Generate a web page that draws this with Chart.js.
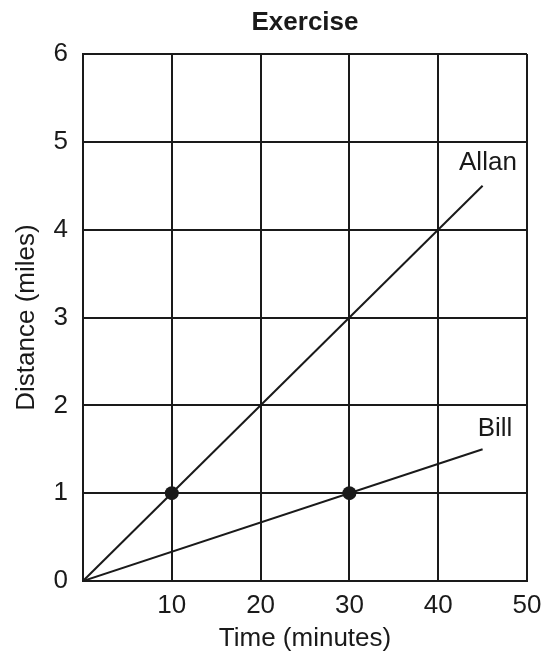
<!DOCTYPE html>
<html>
<head>
<meta charset="utf-8">
<script src="https://cdn.jsdelivr.net/npm/chart.js@4"></script>
<style>
  html, body { margin: 0; padding: 0; background: #ffffff; }
  #wrap { width: 543px; height: 662px; position: relative; }
</style>
</head>
<body>
<div id="wrap"><canvas id="c" width="543" height="662"></canvas></div>
<script>
// ---- data ----
const chartTitle = "Exercise";
const xTitle = "Time (minutes)";
const yTitle = "Distance (miles)";
const allanX = [0, 45];
const allanY = [0, 4.5];
const billX = [0, 45];
const billY = [0, 1.5];
const markerX = [10, 30];
const markerY = [1, 1];
const seriesNames = ["Allan", "Bill"];
const nameAnchorX = [45.6, 46.4];
const nameAnchorY = [4.76, 1.73];
const xTicks = [0, 10, 20, 30, 40, 50];
const yTicks = [0, 1, 2, 3, 4, 5, 6];

const ink = '#1a1a1a';
const FONT = "'Liberation Sans', Arial, sans-serif";
const FS = 26;

const toPts = (xs, ys) => xs.map((x, i) => ({x: x, y: ys[i]}));

const labelPlugin = {
  id: 'labels',
  afterDatasetsDraw(chart) {
    const {ctx, scales: {x, y}, chartArea} = chart;
    ctx.save();
    ctx.fillStyle = ink;
    ctx.textAlign = 'center';
    ctx.textBaseline = 'middle';
    ctx.font = FS + "px " + FONT;
    seriesNames.forEach((n, i) => {
      ctx.fillText(n, x.getPixelForValue(nameAnchorX[i]), y.getPixelForValue(nameAnchorY[i]));
    });
    ctx.font = "bold " + FS + "px " + FONT;
    ctx.fillText(chartTitle, (chartArea.left + chartArea.right) / 2, 23);
    ctx.restore();
  }
};

new Chart(document.getElementById('c'), {
  type: 'scatter',
  data: {
    datasets: [
      { label: seriesNames[0], data: toPts(allanX, allanY), showLine: true, borderColor: ink, borderWidth: 2, pointRadius: 0, fill: false },
      { label: seriesNames[1], data: toPts(billX, billY), showLine: true, borderColor: ink, borderWidth: 2, pointRadius: 0, fill: false },
      { label: 'points', data: toPts(markerX, markerY), showLine: false, backgroundColor: ink, borderColor: ink, pointRadius: 7, pointBorderWidth: 0 }
    ]
  },
  options: {
    responsive: false,
    animation: false,
    layout: { padding: { top: 54, right: 16, left: 0, bottom: 0 } },
    plugins: { legend: { display: false }, tooltip: { enabled: false }, title: { display: false } },
    scales: {
      x: {
        type: 'linear',
        min: xTicks[0], max: xTicks[xTicks.length - 1],
        afterBuildTicks(s) { s.ticks = xTicks.map(v => ({value: v})); },
        afterFit(s) { s.height = 81; s.paddingLeft = 0; s.paddingRight = 0; },
        grid: { color: ink, lineWidth: 2, drawTicks: false },
        border: { display: true, color: ink, width: 2 },
        ticks: { color: ink, font: { size: FS, family: FONT }, padding: 9, maxRotation: 0,
          callback: v => v === 0 ? '' : String(v) },
        title: { display: true, text: xTitle, color: ink, font: { size: FS, family: FONT }, padding: { top: 0, bottom: 8 } }
      },
      y: {
        type: 'linear',
        min: yTicks[0], max: yTicks[yTicks.length - 1],
        afterBuildTicks(s) { s.ticks = yTicks.map(v => ({value: v})); },
        afterFit(s) { s.width = 83; s.paddingTop = 0; s.paddingBottom = 0; },
        grid: { color: ink, lineWidth: 2, drawTicks: false },
        border: { display: true, color: ink, width: 2 },
        ticks: { color: ink, font: { size: FS, family: FONT }, padding: 15 },
        title: { display: true, text: yTitle, color: ink, font: { size: FS, family: FONT }, padding: { top: 11, bottom: 0 } }
      }
    }
  },
  plugins: [labelPlugin]
});
</script>
</body>
</html>
